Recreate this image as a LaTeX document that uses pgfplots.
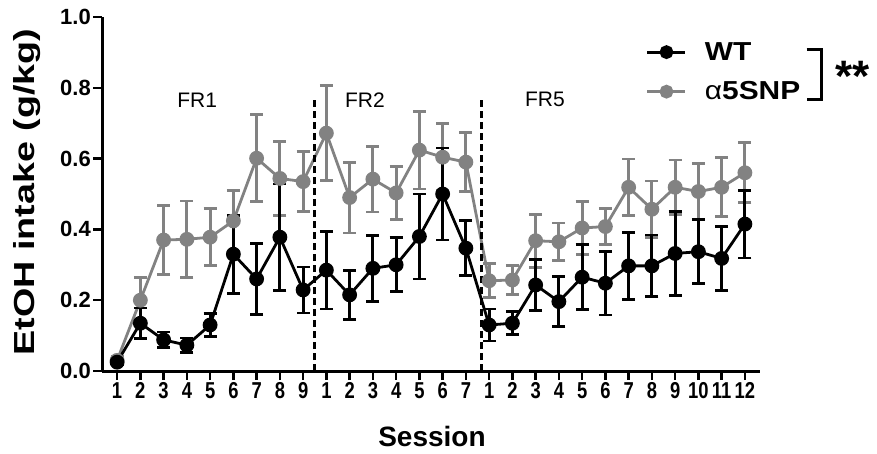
\documentclass[border=0pt]{standalone}
\usepackage{fontspec}
\setmainfont{Liberation Sans}
\newfontfamily\narrowfont{Liberation Sans}[FakeStretch=0.8]
\newfontfamily\widefont{Liberation Sans}[FakeStretch=1.3]
\newfontfamily\legfont{Liberation Sans}[FakeStretch=1.15]
\usepackage{pgfplots}
\usepackage{pgfplotstable}
\pgfplotsset{compat=1.18}
\definecolor{snpgray}{RGB}{130,130,130}

% session index, mean, SEM
\pgfplotstableread{
x y e
0 0.025 0.008
1 0.135 0.043
2 0.088 0.022
3 0.073 0.020
4 0.130 0.033
5 0.330 0.110
6 0.260 0.100
7 0.378 0.150
8 0.229 0.065
9 0.285 0.110
10 0.215 0.070
11 0.290 0.093
12 0.300 0.076
13 0.380 0.120
14 0.500 0.130
15 0.347 0.078
16 0.130 0.045
17 0.135 0.033
18 0.243 0.072
19 0.196 0.070
20 0.265 0.092
21 0.248 0.090
22 0.297 0.095
23 0.297 0.087
24 0.332 0.118
25 0.337 0.090
26 0.318 0.090
27 0.415 0.096
}\wt

\pgfplotstableread{
x y e
0 0.030 0.010
1 0.200 0.065
2 0.370 0.098
3 0.372 0.108
4 0.378 0.080
5 0.424 0.085
6 0.601 0.123
7 0.544 0.104
8 0.535 0.084
9 0.672 0.134
10 0.490 0.100
11 0.542 0.093
12 0.503 0.074
13 0.624 0.110
14 0.604 0.095
15 0.590 0.083
16 0.255 0.048
17 0.257 0.040
18 0.368 0.075
19 0.365 0.053
20 0.404 0.075
21 0.408 0.050
22 0.519 0.080
23 0.457 0.080
24 0.519 0.077
25 0.507 0.080
26 0.519 0.083
27 0.560 0.085
}\snp

\begin{document}
\begin{tikzpicture}
\begin{axis}[at={(102pt,82pt)},anchor=south west,scale only axis,
  width=658pt,height=354pt,
  xmin=-0.65,xmax=27.65,ymin=0,ymax=1,
  axis lines*=left,axis line style={line width=3pt,-},
  tick align=outside,major tick length=9pt,
  tick style={line width=2.5pt,black},
  xtick={0,...,27},
  xticklabels={1,2,3,4,5,6,7,8,9,1,2,3,4,5,6,7,1,2,3,4,5,6,7,8,9,10,11,12},
  xticklabel style={font=\fontsize{23}{24}\narrowfont\bfseries,inner sep=1pt,yshift=-1pt},
  ytick={0,0.2,...,1.0},
  yticklabel style={font=\fontsize{22}{24}\selectfont\bfseries,/pgf/number format/fixed,
    /pgf/number format/fixed zerofill,/pgf/number format/precision=1,inner sep=2pt},
  /pgf/number format/assume math mode=true,
  xlabel={Session},
  xlabel style={font=\fontsize{28}{30}\selectfont\bfseries,at={(axis description cs:0.5015,-0.186)},anchor=center},
  ylabel={EtOH intake (g/kg)},
  ylabel style={font=\fontsize{29}{30}\widefont\bfseries,at={(axis description cs:-0.114,0.506)},anchor=center},
  clip=false,
  error bars/y dir=both,error bars/y explicit,
  error bars/error bar style={line width=2.8pt},
  error bars/error mark options={rotate=90,mark size=6.5pt,line width=2.8pt},
  legend image code/.code={\draw[mark repeat=2,mark phase=2,mark size=5.5pt] plot coordinates {(0pt,0pt)(19pt,0pt)(38pt,0pt)};},
  legend style={draw=none,fill=none,at={(axis description cs:0.822,0.94)},anchor=north west,
    font=\fontsize{26}{28}\legfont\bfseries,row sep=16pt,column sep=16pt,cells={anchor=west}},
  reverse legend,
]
\addplot[color=snpgray,line width=2.8pt,mark=*,mark size=6pt,mark options={solid,fill=snpgray}]
  table[x=x,y=y,y error=e]{\snp};
\addlegendentry{{\mdseries α}5SNP}
\addplot[color=black,line width=2.8pt,mark=*,mark size=6pt,mark options={solid,fill=black}]
  table[x=x,y=y,y error=e]{\wt};
\addlegendentry{WT}

\draw[line width=2.8pt,dash pattern=on 7pt off 4pt] (axis cs:8.5,0) -- (axis cs:8.5,0.77);
\draw[line width=2.8pt,dash pattern=on 7pt off 4pt] (axis cs:15.66,0) -- (axis cs:15.66,0.77);
\node[font=\fontsize{21}{22}\selectfont] at (axis cs:3.44,0.766) {FR1};
\node[font=\fontsize{21}{22}\selectfont] at (axis cs:10.66,0.766) {FR2};
\node[font=\fontsize{21}{22}\selectfont] at (axis cs:18.4,0.766) {FR5};
\draw[line width=3pt] (axis description cs:1.071,0.907) -- (axis description cs:1.094,0.907)
  -- (axis description cs:1.094,0.766) -- (axis description cs:1.071,0.766);
\node[font=\fontsize{44}{44}\selectfont\bfseries,anchor=center] at (axis description cs:1.141,0.833) {**};
\end{axis}
\pgfresetboundingbox
\path[use as bounding box] (0,0) rectangle (877pt,453pt);
\end{tikzpicture}
\end{document}
